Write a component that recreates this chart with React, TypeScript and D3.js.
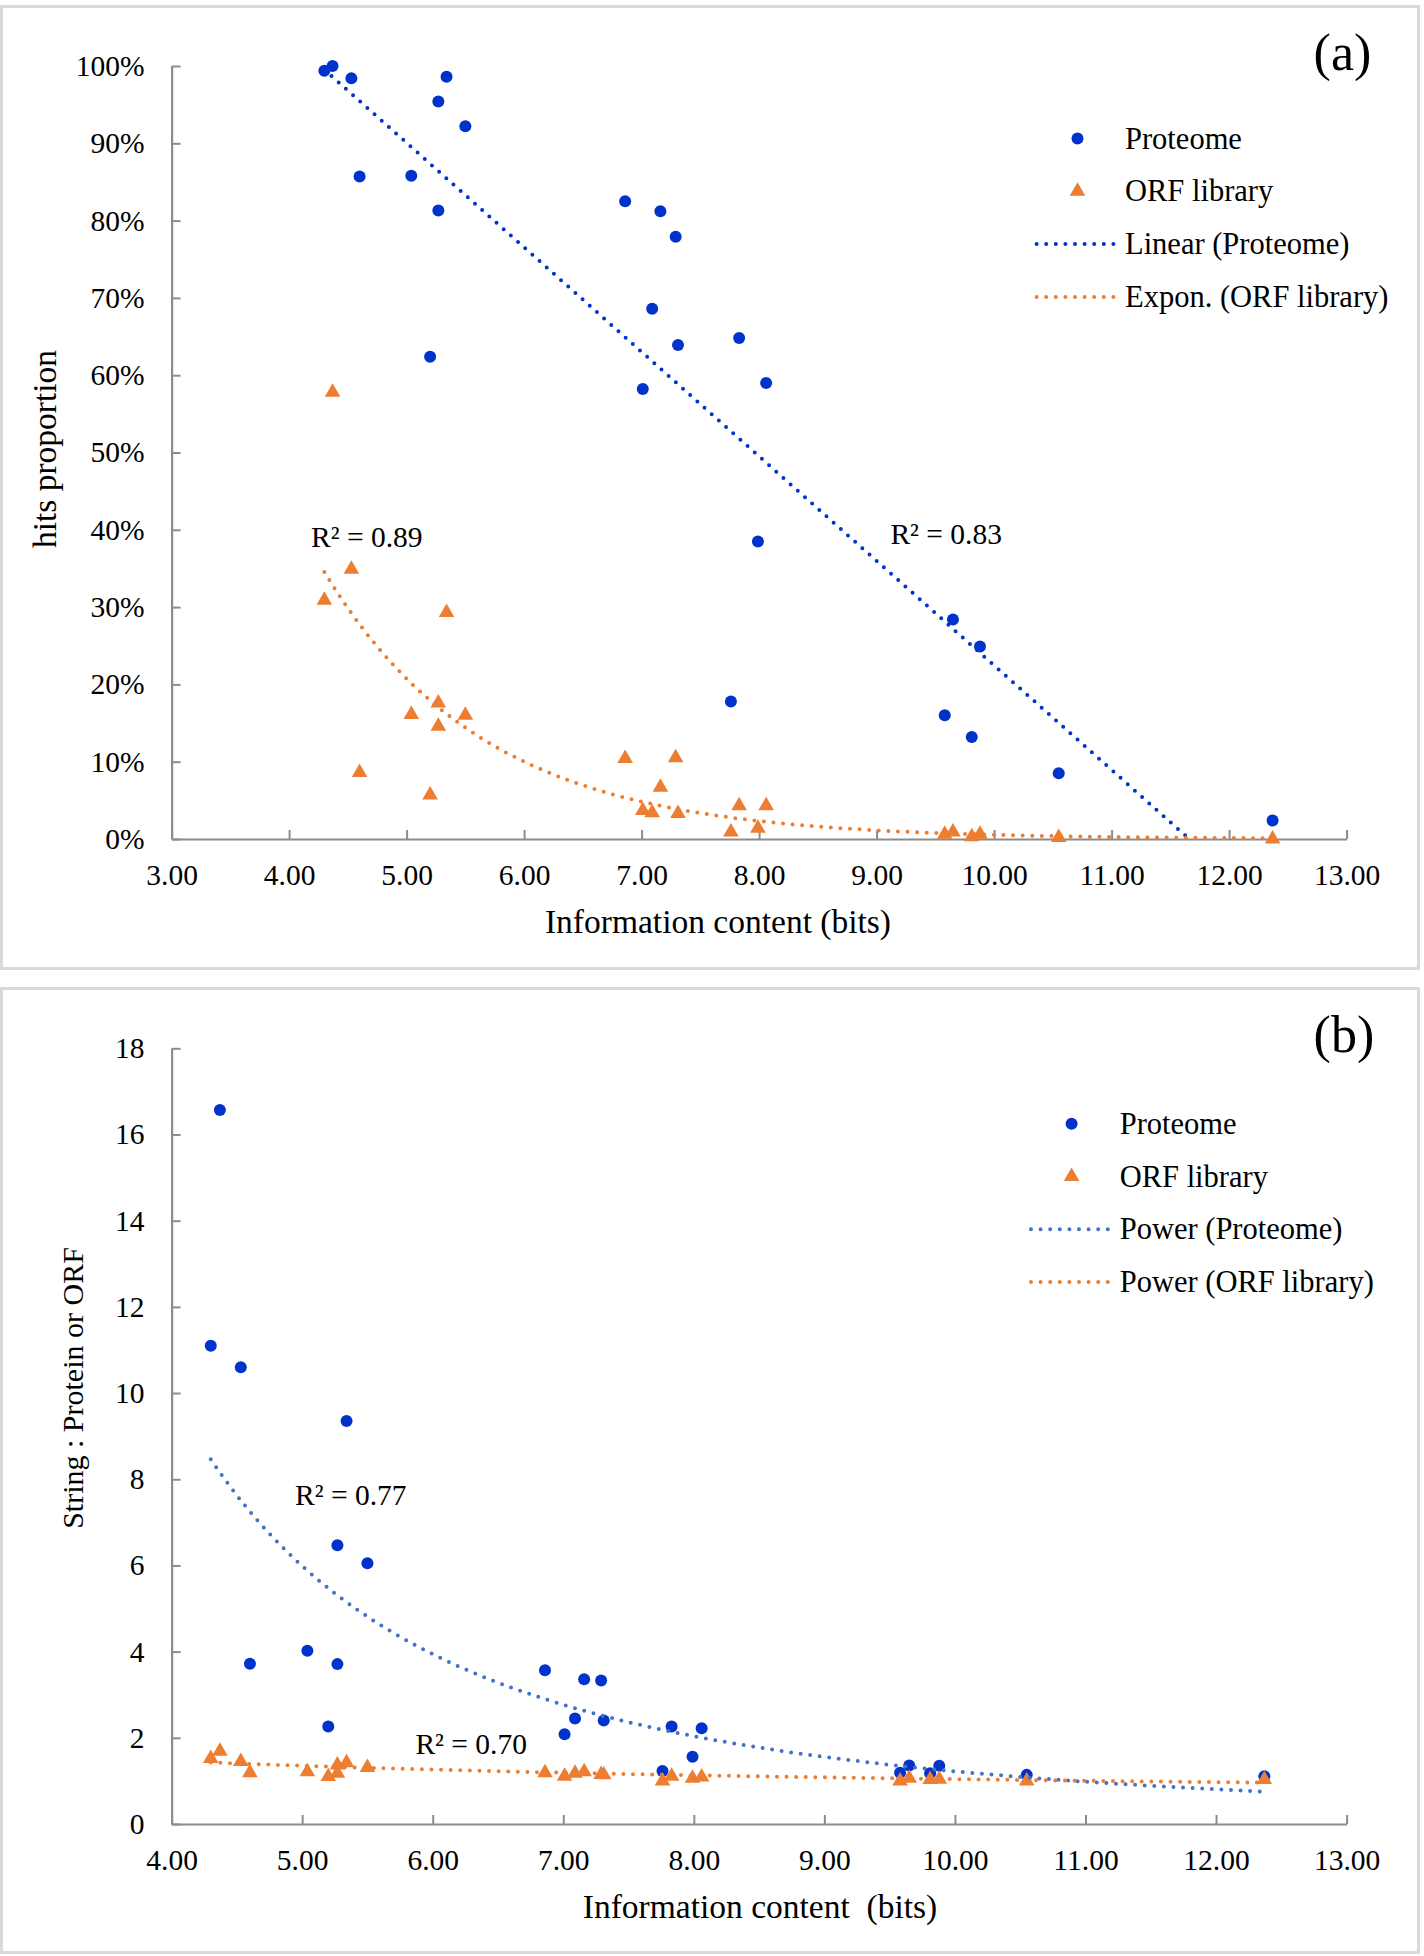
import React, { useEffect, useRef } from "react";
import * as d3 from "d3";

// information content (bits) of each library, shared by both panels
const infoBits = [
  4.3, 4.37, 4.53, 4.6, 5.04, 5.2, 5.27, 5.27, 5.34, 5.5, 6.86, 7.01, 7.09,
  7.16, 7.29, 7.31, 7.76, 7.83, 7.99, 8.06, 9.58, 9.65, 9.81, 9.88, 10.55, 12.37,
];

// panel (a): hits proportion, %
const hitsProteome = [
  99.4, 100.0, 98.4, 85.7, 85.8, 62.4, 95.4, 81.3, 98.6, 92.2, 82.5, 58.2, 68.6,
  81.2, 77.9, 63.9, 17.8, 64.8, 38.5, 59.0, 16.0, 28.4, 13.2, 24.9, 8.5, 2.4,
];
const hitsOrf = [
  30.9, 57.8, 34.9, 8.6, 16.1, 5.7, 17.6, 14.6, 29.3, 16.0, 10.4, 3.7, 3.4, 6.7,
  10.5, 3.3, 0.9, 4.3, 1.4, 4.3, 0.6, 0.9, 0.3, 0.6, 0.2, 0.0,
];

// panel (b): String : Protein or ORF
const ratioProteome = [
  11.1, 16.57, 10.6, 3.72, 4.02, 2.26, 6.47, 3.71, 9.35, 6.05, 3.57, 2.08, 2.45,
  3.36, 3.33, 2.4, 1.23, 2.26, 1.56, 2.22, 1.19, 1.36, 1.18, 1.35, 1.14, 1.11,
];
const ratioOrf = [
  1.52, 1.69, 1.45, 1.19, 1.21, 1.1, 1.37, 1.18, 1.42, 1.31, 1.19, 1.11, 1.18,
  1.21, 1.15, 1.14, 1.0, 1.11, 1.06, 1.09, 1.0, 1.06, 1.03, 1.04, 1.0, 1.03,
];

const hitsXTicks = [3, 4, 5, 6, 7, 8, 9, 10, 11, 12, 13];
const hitsYTicks = [0, 10, 20, 30, 40, 50, 60, 70, 80, 90, 100];
const ratioXTicks = [4, 5, 6, 7, 8, 9, 10, 11, 12, 13];
const ratioYTicks = [0, 2, 4, 6, 8, 10, 12, 14, 16, 18];

// trendline coefficients as shown by the chart
const linearProteome = { slope: -13.52, intercept: 157.66 };
const exponOrf = { a: 794, b: -0.729 };
const powerProteome = { a: 239.9, b: -2.293 };
const powerOrf = { a: 2.478, b: -0.377 };

const legendA = ["Proteome", "ORF library", "Linear (Proteome)", "Expon. (ORF library)"];
const legendB = ["Proteome", "ORF library", "Power (Proteome)", "Power (ORF library)"];

const BLUE = "#0033cc";
const LIGHT_BLUE = "#4472c4";
const ORANGE = "#ed7d31";
const AXIS = "#8c8c8c";
const FONT = "'Liberation Serif', 'Times New Roman', serif";

const App = () => {
  const ref = useRef(null);

  useEffect(() => {
    const svg = d3.select(ref.current);
    svg.selectAll("*").remove();

    const drawPanel = (cfg) => {
      const g = svg.append("g");

      g.append("rect")
        .attr("x", 1.5)
        .attr("y", cfg.top)
        .attr("width", 1417)
        .attr("height", cfg.height)
        .attr("fill", "#fff")
        .attr("stroke", "#d9d9d9")
        .attr("stroke-width", 3);

      const x = d3.scaleLinear().domain(cfg.xDomain).range([171.6, 1346.6]);
      const y = d3.scaleLinear().domain(cfg.yDomain).range(cfg.yRange);

      const xAxis = g
        .append("g")
        .attr("transform", `translate(0,${cfg.yRange[0]})`)
        .call(
          d3
            .axisBottom(x)
            .tickValues(cfg.xTicks)
            .tickFormat(d3.format(".2f"))
            .tickSizeInner(-9)
            .tickSizeOuter(0)
            .tickPadding(25)
        );

      const yAxis = g
        .append("g")
        .attr("transform", `translate(171.6,0)`)
        .call(
          d3
            .axisLeft(y)
            .tickValues(cfg.yTicks)
            .tickFormat(cfg.yFormat)
            .tickSizeInner(-9)
            .tickSizeOuter(0)
            .tickPadding(27)
        );

      [xAxis, yAxis].forEach((ax) => {
        ax.attr("font-family", FONT).attr("font-size", 29.5);
        ax.select(".domain").attr("stroke", AXIS).attr("stroke-width", 2.2);
        ax.selectAll(".tick line").attr("stroke", AXIS).attr("stroke-width", 2);
        ax.selectAll(".tick text").attr("fill", "#000");
      });

      // markers
      g.append("g")
        .selectAll("circle")
        .data(infoBits)
        .join("circle")
        .attr("cx", (d) => x(d))
        .attr("cy", (d, i) => y(cfg.proteome[i]))
        .attr("r", 6)
        .attr("fill", BLUE);

      const tri = d3.symbol().type(d3.symbolTriangle).size(105);
      g.append("g")
        .selectAll("path")
        .data(infoBits)
        .join("path")
        .attr("transform", (d, i) => `translate(${x(d)},${y(cfg.orf[i])})`)
        .attr("d", tri)
        .attr("fill", ORANGE);

      // trendlines
      const line = d3
        .line()
        .x((d) => x(d[0]))
        .y((d) => y(d[1]));

      cfg.trends.forEach((t) => {
        const pts = d3
          .range(t.x0, t.x1, 0.02)
          .concat([t.x1])
          .map((v) => [v, t.f(v)]);
        g.append("path")
          .datum(pts)
          .attr("fill", "none")
          .attr("stroke", t.color)
          .attr("stroke-width", 4)
          .attr("stroke-linecap", "round")
          .attr("stroke-dasharray", "0 9.6")
          .attr("d", line);
      });

      // R² labels
      cfg.r2.forEach((r) => {
        g.append("text")
          .attr("x", r.x)
          .attr("y", r.y)
          .attr("font-family", FONT)
          .attr("font-size", 29.5)
          .text(r.text);
      });

      // axis titles
      g.append("text")
        .attr("x", cfg.xTitle.x)
        .attr("y", cfg.xTitle.y)
        .attr("text-anchor", "middle")
        .attr("font-family", FONT)
        .attr("font-size", 33.5)
        .style("white-space", "pre")
        .text(cfg.xTitle.text);

      g.append("text")
        .attr("transform", `translate(${cfg.yTitle.x},${cfg.yTitle.y}) rotate(-90)`)
        .attr("text-anchor", "middle")
        .attr("font-family", FONT)
        .attr("font-size", cfg.yTitle.size)
        .text(cfg.yTitle.text);

      // panel tag
      g.append("text")
        .attr("x", 1313.6)
        .attr("y", cfg.tagY)
        .attr("font-family", FONT)
        .attr("font-size", 52)
        .text(cfg.tag);

      // legend
      const lg = g.append("g");
      cfg.legend.forEach((label, i) => {
        const ly = cfg.legendY + i * 52.8;
        if (i === 0) {
          lg.append("circle").attr("cx", cfg.legendMarkX).attr("cy", ly).attr("r", 6).attr("fill", BLUE);
        } else if (i === 1) {
          lg.append("path")
            .attr("transform", `translate(${cfg.legendMarkX},${ly})`)
            .attr("d", tri)
            .attr("fill", ORANGE);
        } else {
          lg.append("line")
            .attr("x1", cfg.legendLineX[0])
            .attr("x2", cfg.legendLineX[1])
            .attr("y1", ly)
            .attr("y2", ly)
            .attr("stroke", i === 2 ? cfg.trends[0].color : ORANGE)
            .attr("stroke-width", 4)
            .attr("stroke-linecap", "round")
            .attr("stroke-dasharray", "0 9.6");
        }
        lg.append("text")
          .attr("x", cfg.legendTextX)
          .attr("y", ly + 10)
          .attr("font-family", FONT)
          .attr("font-size", 30.5)
          .text(label);
      });
    };

    const xMin = d3.min(infoBits);
    const xMax = d3.max(infoBits);

    drawPanel({
      top: 6.5,
      height: 962,
      xDomain: [3, 13],
      yDomain: [0, 100],
      yRange: [839, 66],
      xTicks: hitsXTicks,
      yTicks: hitsYTicks,
      yFormat: (d) => `${d}%`,
      proteome: hitsProteome,
      orf: hitsOrf,
      trends: [
        {
          x0: xMin,
          x1: Math.min(xMax, -linearProteome.intercept / linearProteome.slope),
          f: (v) => linearProteome.intercept + linearProteome.slope * v,
          color: BLUE,
        },
        { x0: xMin, x1: xMax, f: (v) => exponOrf.a * Math.exp(exponOrf.b * v), color: ORANGE },
      ],
      r2: [
        { x: 311, y: 546.5, text: "R² = 0.89" },
        { x: 890.4, y: 544, text: "R² = 0.83" },
      ],
      xTitle: { x: 718, y: 933, text: "Information content (bits)" },
      yTitle: { x: 56, y: 449, size: 33.5, text: "hits proportion" },
      tag: "(a)",
      tagY: 70,
      legend: legendA,
      legendY: 138.5,
      legendMarkX: 1077.5,
      legendLineX: [1036.6, 1113.8],
      legendTextX: 1125,
    });

    drawPanel({
      top: 988.5,
      height: 964,
      xDomain: [4, 13],
      yDomain: [0, 18],
      yRange: [1824, 1048.3],
      xTicks: ratioXTicks,
      yTicks: ratioYTicks,
      yFormat: (d) => `${d}`,
      proteome: ratioProteome,
      orf: ratioOrf,
      trends: [
        { x0: xMin, x1: xMax, f: (v) => powerProteome.a * Math.pow(v, powerProteome.b), color: LIGHT_BLUE },
        { x0: xMin, x1: xMax, f: (v) => powerOrf.a * Math.pow(v, powerOrf.b), color: ORANGE },
      ],
      r2: [
        { x: 295, y: 1505, text: "R² = 0.77" },
        { x: 415.4, y: 1754, text: "R² = 0.70" },
      ],
      xTitle: { x: 760, y: 1918, text: "Information content  (bits)" },
      yTitle: { x: 83, y: 1388, size: 30, text: "String : Protein or ORF" },
      tag: "(b)",
      tagY: 1052,
      legend: legendB,
      legendY: 1123.7,
      legendMarkX: 1071.6,
      legendLineX: [1031, 1108],
      legendTextX: 1119.7,
    });
  }, []);

  return (
    <svg
      ref={ref}
      width={1424}
      height={1956}
      style={{ position: "absolute", left: 0, top: 0, background: "#fff" }}
    />
  );
};

export default App;
